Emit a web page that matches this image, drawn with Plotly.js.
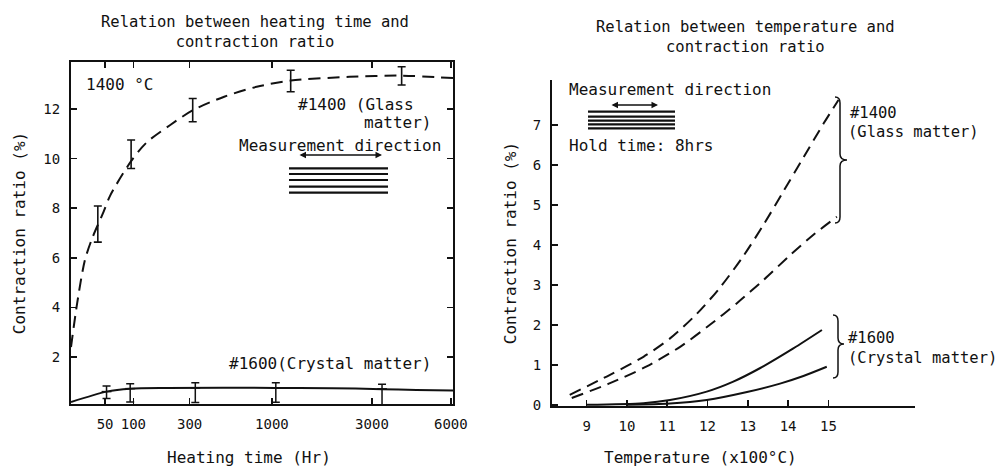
<!DOCTYPE html>
<html><head><meta charset="utf-8">
<script src="https://cdn.plot.ly/plotly-3.0.1.min.js"></script>
<style>html,body{margin:0;padding:0;background:#fff}#chart{width:1000px;height:470px}</style>
</head><body><div id="chart"></div>
<script>
// ---------- Left chart: heating time vs contraction ratio (1400 °C) ----------
const timeTicks = [50, 100, 300, 1000, 3000, 6000];
const timeMin = 17.8, timeMax = 6107;
const glassCurveTime  = [17.8, 22, 28, 35, 48, 57, 95, 133, 211, 316, 520, 821, 1259, 2400, 3950, 6107];
const glassCurveRatio = [2.4, 4.2, 5.9, 6.8, 7.85, 8.5, 9.9, 10.65, 11.35, 11.95, 12.5, 12.9, 13.15, 13.3, 13.35, 13.25];
const glassBarTime = [41, 95, 316, 1259, 3950];
const glassBarHigh = [8.09, 10.75, 12.43, 13.57, 13.71];
const glassBarLow  = [6.63, 9.6, 11.49, 12.7, 12.97];
const crystalCurveTime  = [17.8, 52, 93, 200, 1050, 2000, 3300, 4500, 6107];
const crystalCurveRatio = [0.18, 0.6, 0.72, 0.75, 0.75, 0.74, 0.7, 0.66, 0.64];
const crystalBarTime = [52, 93, 330, 1050, 3300];
const crystalBarMid  = [0.6, 0.72, 0.75, 0.75, 0.71];
const crystalBarHigh = [0.83, 0.92, 0.96, 0.96, 0.9];
const crystalBarLow  = [0.32, 0.18, 0.16, 0.17, 0.05];
const leftRatioTicks = [2, 4, 6, 8, 10, 12];

// ---------- Right chart: temperature (x100 °C) vs contraction ratio ----------
const tempTicks = [9, 10, 11, 12, 13, 14, 15];
const rightRatioTicks = [0, 1, 2, 3, 4, 5, 6, 7];
const glassUpperTemp  = [8.58, 9.58, 10.41, 11.07, 11.73, 12.31, 12.89, 13.39, 13.88, 14.38, 14.88, 15.25];
const glassUpperRatio = [0.25, 0.75, 1.2, 1.66, 2.27, 2.93, 3.72, 4.5, 5.33, 6.18, 7.03, 7.62];
const glassLowerTemp  = [8.63, 9.58, 10.49, 11.32, 12.06, 12.73, 13.39, 14.05, 14.63, 15.21];
const glassLowerRatio = [0.17, 0.54, 0.96, 1.45, 2.0, 2.54, 3.12, 3.74, 4.25, 4.7];
const crystalUpperTemp  = [9.0, 10.41, 11.07, 11.98, 12.64, 13.31, 14.13, 14.84];
const crystalUpperRatio = [0.0, 0.04, 0.12, 0.33, 0.58, 0.92, 1.41, 1.87];
const crystalLowerTemp  = [10.0, 11.07, 11.98, 12.98, 13.8, 14.38, 14.96];
const crystalLowerRatio = [0.0, 0.03, 0.12, 0.32, 0.53, 0.72, 0.95];

// ---------- helpers ----------
const FONT = 'DejaVu Sans Mono, monospace';
const BLACK = '#111';
const tScale = t => Math.pow(t, 0.25);   // hand-drawn time axis, approx. fourth-root spacing
const W = 1000, H = 470;
const px = x => x / W, py = y => 1 - y / H;

const traces = [
  {x: glassCurveTime.map(tScale), y: glassCurveRatio, mode: 'lines', xaxis: 'x', yaxis: 'y',
   line: {color: BLACK, width: 2, dash: '12px,7px', shape: 'spline', smoothing: 0.8}},
  {x: glassBarTime.map(tScale), y: glassBarHigh.map((h, i) => (h + glassBarLow[i]) / 2),
   mode: 'markers', xaxis: 'x', yaxis: 'y', marker: {size: 1, color: 'rgba(0,0,0,0)'},
   error_y: {type: 'data', symmetric: false,
     array: glassBarHigh.map((h, i) => (h - glassBarLow[i]) / 2),
     arrayminus: glassBarHigh.map((h, i) => (h - glassBarLow[i]) / 2),
     color: BLACK, thickness: 1.6, width: 4}},
  {x: crystalCurveTime.map(tScale), y: crystalCurveRatio, mode: 'lines', xaxis: 'x', yaxis: 'y',
   line: {color: BLACK, width: 2, shape: 'spline', smoothing: 0.8}},
  {x: crystalBarTime.map(tScale), y: crystalBarMid, mode: 'markers', xaxis: 'x', yaxis: 'y',
   marker: {symbol: 'line-ew-open', size: 7, color: BLACK, line: {width: 1.5, color: BLACK}},
   error_y: {type: 'data', symmetric: false,
     array: crystalBarHigh.map((h, i) => h - crystalBarMid[i]),
     arrayminus: crystalBarMid.map((m, i) => m - crystalBarLow[i]),
     color: BLACK, thickness: 1.5, width: 4}},
  {x: glassUpperTemp, y: glassUpperRatio, mode: 'lines', xaxis: 'x2', yaxis: 'y2',
   line: {color: BLACK, width: 2, dash: '12px,7px', shape: 'spline', smoothing: 0.8}},
  {x: glassLowerTemp, y: glassLowerRatio, mode: 'lines', xaxis: 'x2', yaxis: 'y2',
   line: {color: BLACK, width: 2, dash: '12px,7px', shape: 'spline', smoothing: 0.8}},
  {x: crystalUpperTemp, y: crystalUpperRatio, mode: 'lines', xaxis: 'x2', yaxis: 'y2',
   line: {color: BLACK, width: 2, shape: 'spline', smoothing: 0.8}},
  {x: crystalLowerTemp, y: crystalLowerRatio, mode: 'lines', xaxis: 'x2', yaxis: 'y2',
   line: {color: BLACK, width: 2, shape: 'spline', smoothing: 0.8}}
];

const axisBase = {showline: true, linewidth: 2, linecolor: BLACK, ticks: 'inside', ticklen: 6,
  tickwidth: 1.5, tickcolor: BLACK, showgrid: false, zeroline: false,
  tickfont: {family: FONT, size: 14, color: BLACK}, ticklabelstandoff: 6};

function txt(text, x, y, anchor, size) {
  return {text, x: px(x), y: py(y), xref: 'paper', yref: 'paper', xanchor: anchor || 'left',
    yanchor: 'middle', showarrow: false, font: {family: FONT, size: size || 16, color: BLACK}};
}
function arrow(x0, x1, y) {
  return {text: '', x: px(x1), y: py(y), xref: 'paper', yref: 'paper', ax: x0 - x1, ay: 0,
    showarrow: true, arrowside: 'end+start', arrowhead: 2, arrowsize: 1, arrowwidth: 1.3, arrowcolor: BLACK};
}
function hlines(x0, x1, ys, w) {
  return ys.map(y => ({type: 'line', xref: 'paper', yref: 'paper', x0: px(x0), x1: px(x1),
    y0: py(y), y1: py(y), line: {color: BLACK, width: w}}));
}
function brace(xv, y1, y2, ym, h, d, r) {
  const P = (x, y) => px(x).toFixed(5) + ',' + py(y).toFixed(5);
  const path = 'M' + P(xv - h, y1) + ' Q' + P(xv, y1) + ' ' + P(xv, y1 + r) +
    ' L' + P(xv, ym - r) + ' Q' + P(xv, ym) + ' ' + P(xv + d, ym) +
    ' Q' + P(xv, ym) + ' ' + P(xv, ym + r) + ' L' + P(xv, y2 - r) +
    ' Q' + P(xv, y2) + ' ' + P(xv - h, y2);
  return {type: 'path', xref: 'paper', yref: 'paper', path, line: {color: BLACK, width: 1.5}};
}

const layout = {
  width: W, height: H, margin: {l: 0, r: 0, t: 0, b: 0},
  paper_bgcolor: '#fff', plot_bgcolor: '#fff', showlegend: false, hovermode: false,
  font: {family: FONT, color: BLACK},
  xaxis: Object.assign({}, axisBase, {domain: [0.071, 0.453], anchor: 'y',
    range: [tScale(timeMin), tScale(timeMax)], tickvals: timeTicks.map(tScale),
    ticktext: timeTicks.map(String), mirror: 'ticks'}),
  yaxis: Object.assign({}, axisBase, {domain: [py(404), py(62)], anchor: 'x', range: [0.1, 13.9],
    tickvals: leftRatioTicks, mirror: 'ticks',
    title: {text: 'Contraction ratio (%)', font: {family: FONT, size: 16, color: BLACK}, standoff: 14}}),
  xaxis2: Object.assign({}, axisBase, {domain: [0.552, 0.915], anchor: 'y2', range: [8.14, 17.15],
    tickvals: tempTicks}),
  yaxis2: Object.assign({}, axisBase, {domain: [py(406), py(80)], anchor: 'x2', range: [-0.03, 8.12],
    tickvals: rightRatioTicks,
    title: {text: 'Contraction ratio (%)', font: {family: FONT, size: 16, color: BLACK}, standoff: 12}}),
  annotations: [
    txt('Relation between heating time and<br>contraction ratio', 255, 32, 'center', 15.5),
    txt('Relation between temperature and<br>contraction ratio', 745, 37, 'center', 15.5),
    txt('Heating time (Hr)', 249, 457, 'center'),
    txt('Temperature (x100°C)', 700, 457, 'center'),
    txt('1400 °C', 84, 85),
    txt('#1400 (Glass', 296, 105),
    txt('matter)', 433, 122, 'right'),
    txt('Measurement direction', 237, 145),
    arrow(298, 382, 155),
    txt('#1600(Crystal matter)', 227, 363),
    txt('Measurement direction', 567, 90),
    arrow(610, 658, 105),
    txt('Hold time: 8hrs', 567, 145),
    txt('#1400', 848, 113, 'left', 15.5),
    txt('(Glass matter)', 846, 132, 'left', 15.5),
    txt('#1600', 846, 338, 'left', 15.5),
    txt('(Crystal matter)', 846, 358, 'left', 15.5)
  ],
  shapes: [].concat(
    hlines(289, 388, [168.3, 174, 180, 186.7, 192.7], 2.2),
    hlines(588, 675, [111.7, 116.7, 120.7, 124.3, 128.3], 2.2),
    [brace(840, 97, 223, 160, 5, 7, 6), brace(838, 315, 378, 344, 5, 6, 6)]
  )
};

Plotly.newPlot('chart', traces, layout, {staticPlot: true, displayModeBar: false});
</script>
</body></html>
